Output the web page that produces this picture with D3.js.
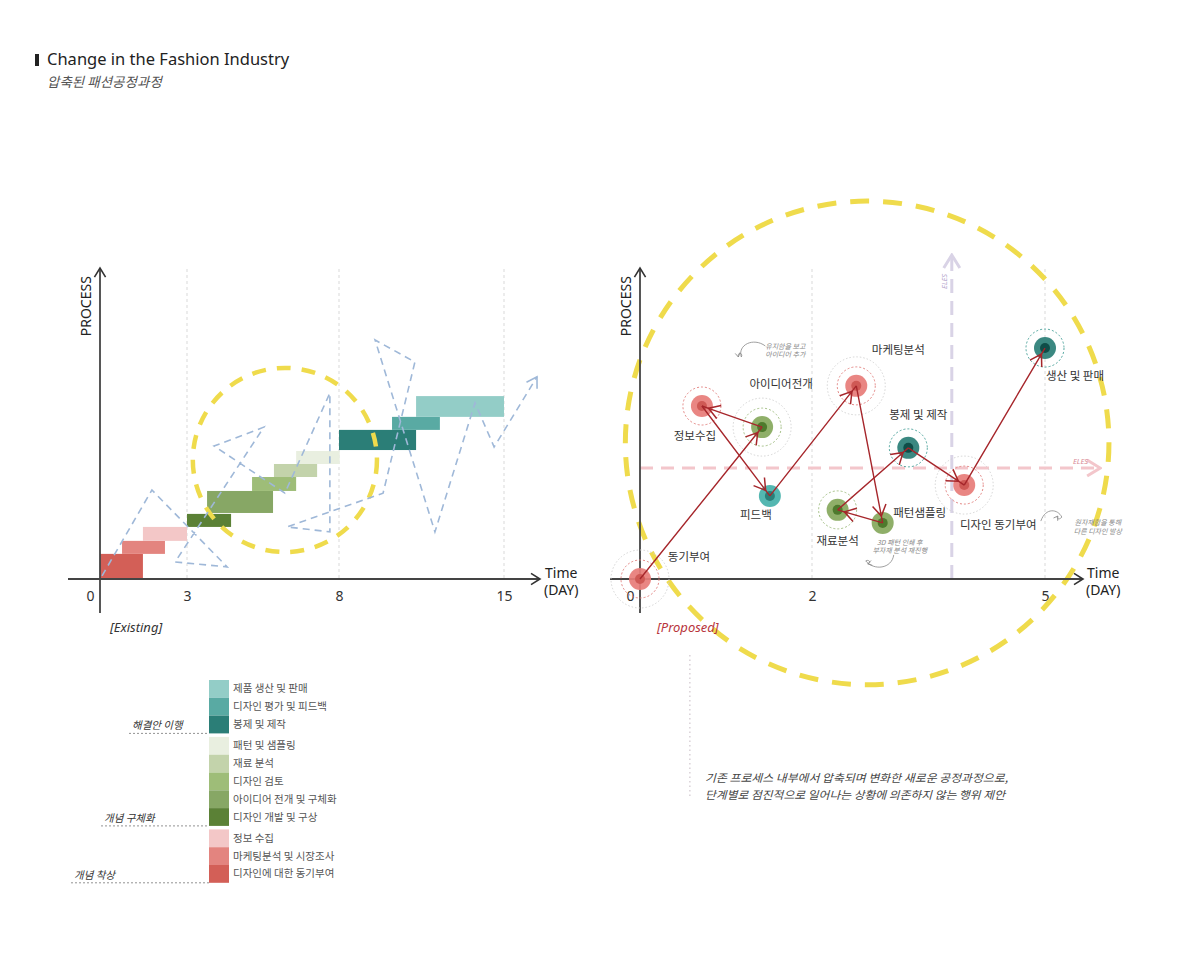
<!DOCTYPE html>
<html><head><meta charset="utf-8">
<script src="https://cdn.jsdelivr.net/npm/d3@7"></script>
<style>
body{margin:0;background:#fff;}
svg{display:block;font-family:"Noto Sans","Noto Sans CJK KR",sans-serif;}
</style></head><body>
<svg id="c" width="1200" height="960"></svg>
<script>
// ---------------- DATA ----------------
const titleText = "Change in the Fashion Industry";
const subtitleText = "압축된 패션공정과정";

const dayTicksExisting = [0, 3, 8, 15];
const dayTicksProposed = [0, 2, 5];

// Existing process (Gantt-like steps)
const existingSteps = ["디자인에 대한 동기부여","마케팅분석 및 시장조사","정보 수집","디자인 개발 및 구상","아이디어 전개 및 구체화","디자인 검토","재료 분석","패턴 및 샘플링","봉제 및 제작","디자인 평가 및 피드백","제품 생산 및 판매"];
const existingStart = [0, 0.76, 1.48, 3, 3.66, 5.14, 5.86, 6.59, 8, 10.25, 11.27];
const existingEnd   = [1.48, 2.24, 3, 4.45, 5.83, 6.59, 7.28, 8.03, 11.27, 12.28, 15];
const existingLow   = [0, 0.81, 1.23, 1.68, 2.13, 2.84, 3.29, 3.71, 4.16, 4.81, 5.23];
const existingHigh  = [0.81, 1.23, 1.68, 2.10, 2.84, 3.29, 3.71, 4.13, 4.81, 5.23, 5.90];
const existingGroup = [0,0,0,1,1,1,1,1,2,2,2];
const groupNames = ["개념 착상","개념 구체화","해결안 이행"];

// Wandering path of the existing process (dashed blue)
const wanderDay  = [0.07, 1.79, 4.32, 2.59, 5.53, 3.89, 6.22, 7.70, 7.70, 6.29, 9.87, 11.22, 9.53, 12.07, 13.77, 14.58, 16.4];
const wanderProc = [0.10, 2.87, 0.39, 0.55, 4.90, 4.29, 2.77, 6.00, 1.52, 1.68, 2.77, 7.00, 7.71, 1.52, 5.68, 4.26, 6.52];

// Proposed process nodes (in path order)
const nodeNames = ["동기부여","아이디어전개","정보수집","피드백","마케팅분석","패턴샘플링","재료분석","봉제 및 제작","디자인 동기부여","생산 및 판매"];
const nodeDay   = [0, 1.42, 0.72, 1.51, 2.57, 2.91, 2.33, 3.24, 3.96, 5];
const nodeProc  = [0, 4.90, 5.58, 2.68, 6.23, 1.81, 2.23, 4.23, 3.03, 7.45];
const nodeKind  = ["red","green","red","teal","red","green","green","dark","red","dark"];
const nodeRings = [2, 2, 1, 0, 2, 0, 1, 1, 2, 1];

const notesText = [["유지함을 보고","아이디어 추가"],["3D 패턴 인쇄 후","부자재 분석 재진행"],["원자재합을 통해","다른 디자인 발상"]];
const notesDay  = [1.69, 3.13, 5.68];
const notesProc = [7.42, 1.10, 1.74];

const elesLevel = 3.58;   // horizontal ELES line (process)
const elesDay = 3.80;     // vertical ELES line (day)

const captionLines = ["기존 프로세스 내부에서 압축되며 변화한 새로운 공정과정으로,","단계별로 점진적으로 일어나는 상황에 의존하지 않는 행위 제안"];

// ---------------- STYLES ----------------
const stepColors = ["#d35f57","#e3847f","#f3c7c7","#5b8136","#87a765","#9ebd78","#c3d3ab","#e9efe0","#2b7e77","#59aaa3","#93cdc7"];
const kindStyle = {
  red:   {fill:"#e77c78", core:"#cf5955", ring:"#e07a78"},
  green: {fill:"#86a85c", core:"#4e7a2d", ring:"#9cba7c"},
  teal:  {fill:"#45b1aa", core:"#2a7f79", ring:"#62b7b0"},
  dark:  {fill:"#2a7e76", core:"#0f4d48", ring:"#3f9c94"}
};
const labelOffset = [[49,-22],[19,-43],[-7,30],[-14,19],[42,-36],[37,-10],[0,31],[10,-33],[34,40],[30,28]];
const groupLabelX = [74,104,132];
const yellow = "#efdb4c";

// ---------------- SCALES ----------------
const svg = d3.select("#c");
const yP = d3.scaleLinear().domain([0,10]).range([579,269]);
const xL = d3.scaleLinear().domain(dayTicksExisting).range([100,187,339,504]);
const xR = d3.scaleLinear().domain(dayTicksProposed).range([640,812,1045]);

// markers
const defs = svg.append("defs");
function chev(id, color, w, size){
  defs.append("marker").attr("id",id).attr("viewBox",`${-size-2} ${-size} ${size+4} ${size*2}`)
    .attr("markerUnits","userSpaceOnUse").attr("markerWidth",size+4).attr("markerHeight",size*2)
    .attr("refX",0).attr("refY",0).attr("orient","auto")
    .append("path").attr("d",`M${-size},${-size*0.62} L0,0 L${-size},${size*0.62}`)
    .attr("fill","none").attr("stroke",color).attr("stroke-width",w).attr("stroke-linejoin","miter");
}
chev("axisArrow","#333",1.6,9);
chev("blueArrow","#9fb8d8",1.6,10);
chev("redArrow","#a6262b",1.5,11);
chev("pinkArrow","#f3c6cb",3,13);
chev("lavArrow","#d9d3e6",3,13);
chev("grayArrow","#888",0.8,4);

// ---------------- TITLE ----------------
svg.append("rect").attr("x",35).attr("y",54).attr("width",4).attr("height",12).attr("fill","#222");
svg.append("text").attr("x",47).attr("y",65).attr("font-size",16.5).attr("fill","#222").text(titleText);
svg.append("text").attr("x",47).attr("y",87).attr("font-size",13.5).attr("font-style","italic").attr("fill","#555")
  .attr("font-family","Noto Sans CJK KR").text(subtitleText);

// ---------------- COMMON AXIS DRAWING ----------------
function drawAxes(x, ticks, gridTicks){
  const g = svg.append("g");
  g.selectAll("line.grid").data(gridTicks).join("line")
    .attr("x1",d=>x(d)).attr("x2",d=>x(d)).attr("y1",yP(10)).attr("y2",yP(0))
    .attr("stroke","#cfcfcf").attr("stroke-width",0.8).attr("stroke-dasharray","3,3");
  const ax = g.append("g").attr("transform",`translate(0,${yP(0)})`)
    .call(d3.axisBottom(x).tickValues(ticks).tickSize(0).tickPadding(12).tickFormat(d3.format("d")));
  ax.select(".domain").remove();
  ax.selectAll("text").attr("font-size",14).attr("fill","#333").attr("font-family","Noto Sans, sans-serif")
    .attr("dx",d=>d===0?-10:0);
  return g;
}
function axisLines(x, x0, x1, lx){
  svg.append("line").attr("x1",x(0)).attr("x2",x(0)).attr("y1",yP(-1.1)).attr("y2",yP(10.03))
    .attr("stroke","#444").attr("stroke-width",1.8).attr("marker-end","url(#axisArrow)");
  svg.append("line").attr("x1",x0).attr("x2",x1).attr("y1",yP(0)).attr("y2",yP(0))
    .attr("stroke","#444").attr("stroke-width",1.8).attr("marker-end","url(#axisArrow)");
  svg.append("text").attr("transform",`translate(${x(0)-9},${yP(8.8)}) rotate(-90)`).attr("text-anchor","middle")
    .attr("font-size",14).attr("fill","#222").text("PROCESS");
  const t = svg.append("text").attr("x",lx).attr("y",yP(0)-1).attr("font-size",14).attr("fill","#222");
  t.append("tspan").attr("x",lx).text("Time");
  t.append("tspan").attr("x",lx-1).attr("dy",17).text("(DAY)");
}

// ---------------- LEFT: EXISTING ----------------
drawAxes(xL, dayTicksExisting, [3,8,15]);

svg.append("g").selectAll("rect").data(existingSteps).join("rect")
  .attr("x",(d,i)=>xL(existingStart[i])).attr("width",(d,i)=>xL(existingEnd[i])-xL(existingStart[i]))
  .attr("y",(d,i)=>yP(existingHigh[i])).attr("height",(d,i)=>yP(existingLow[i])-yP(existingHigh[i]))
  .attr("fill",(d,i)=>stepColors[i]);

svg.append("circle").attr("cx",xL(6.22)).attr("cy",yP(3.84)).attr("r",yP(0)-yP(2.97))
  .attr("fill","none").attr("stroke",yellow).attr("stroke-width",4.5).attr("stroke-dasharray","14,11");

svg.append("path").datum(wanderDay.map((d,i)=>[d,wanderProc[i]]))
  .attr("d",d3.line().x(d=>xL(d[0])).y(d=>yP(d[1])))
  .attr("fill","none").attr("stroke","#9fb8d8").attr("stroke-width",1.6).attr("stroke-dasharray","7,5")
  .attr("marker-end","url(#blueArrow)");

axisLines(xL, xL(0)-32, xL(15)+36, 545);

svg.append("text").attr("x",110).attr("y",632).attr("font-size",13).attr("font-style","italic").attr("fill","#333").text("[Existing]");

// legend
const legendOrder = d3.range(existingSteps.length).reverse();
const itemH = 17.8, gap = 3.5;
let yy = 680; const legendY = [];
legendOrder.forEach((si,k)=>{
  if (k>0 && existingGroup[si]!==existingGroup[legendOrder[k-1]]) yy += gap;
  legendY[si] = yy; yy += itemH;
});
const lg = svg.append("g");
lg.selectAll("rect").data(legendOrder).join("rect")
  .attr("x",209).attr("y",si=>legendY[si]).attr("width",20).attr("height",itemH)
  .attr("fill",si=>stepColors[si]);
lg.selectAll("text").data(legendOrder).join("text")
  .attr("x",233).attr("y",si=>legendY[si]+itemH/2+3.5).attr("font-size",10.5).attr("fill","#555")
  .attr("font-family","Noto Sans CJK KR").text(si=>existingSteps[si]);
groupNames.forEach((gname,gi)=>{
  const members = d3.range(existingSteps.length).filter(i=>existingGroup[i]===gi);
  const bottom = d3.max(members, i=>legendY[i]+itemH);
  svg.append("line").attr("x1",groupLabelX[gi]-3).attr("x2",209).attr("y1",bottom).attr("y2",bottom)
    .attr("stroke","#777").attr("stroke-width",0.8).attr("stroke-dasharray","2,2");
  svg.append("text").attr("x",groupLabelX[gi]).attr("y",bottom-4).attr("font-size",10.5).attr("font-style","italic")
    .attr("fill","#333").attr("font-family","Noto Sans CJK KR").text(gname);
});

// ---------------- RIGHT: PROPOSED ----------------
drawAxes(xR, dayTicksProposed, [2,5]);

svg.append("line").attr("x1",xR(0)).attr("x2",xR(5.71)).attr("y1",yP(elesLevel)).attr("y2",yP(elesLevel))
  .attr("stroke","#f3c6cb").attr("stroke-width",3).attr("stroke-dasharray","13,8").attr("marker-end","url(#pinkArrow)");
svg.append("text").attr("x",xR(5.36)).attr("y",yP(elesLevel)-4).attr("font-size",7.5).attr("font-style","italic")
  .attr("fill","#d98a95").text("ELES");
svg.append("line").attr("x1",xR(elesDay)).attr("x2",xR(elesDay)).attr("y1",yP(0)).attr("y2",yP(10.45))
  .attr("stroke","#d9d3e6").attr("stroke-width",3).attr("stroke-dasharray","14,8").attr("marker-end","url(#lavArrow)");
svg.append("text").attr("transform",`translate(${xR(elesDay)-5},${yP(9.6)}) rotate(-90)`).attr("text-anchor","middle")
  .attr("font-size",7.5).attr("font-style","italic").attr("fill","#b4a6cc").text("ELES");

svg.append("circle").attr("cx",xR(2.71)).attr("cy",yP(4.39)).attr("r",yP(0)-yP(7.8))
  .attr("fill","none").attr("stroke",yellow).attr("stroke-width",5).attr("stroke-dasharray","19,14");

svg.append("line").attr("x1",xR(0.58)).attr("x2",xR(0.58)).attr("y1",yP(-2.45)).attr("y2",yP(-7.1))
  .attr("stroke","#cfc6cc").attr("stroke-width",1.2).attr("stroke-dasharray","1.5,3");

axisLines(xR, xR(0)-30, xR(5)+38, 1087);

svg.append("text").attr("x",657).attr("y",632).attr("font-size",13).attr("font-style","italic").attr("fill","#b8343c").text("[Proposed]");

const ng = svg.append("g");
nodeNames.forEach((n,i)=>{
  const cx = xR(nodeDay[i]), cy = yP(nodeProc[i]), st = kindStyle[nodeKind[i]];
  if (nodeRings[i]>=2) ng.append("circle").attr("cx",cx).attr("cy",cy).attr("r",29)
    .attr("fill","none").attr("stroke","#cfcfcf").attr("stroke-width",0.9).attr("stroke-dasharray","1.5,2");
  if (nodeRings[i]>=1) ng.append("circle").attr("cx",cx).attr("cy",cy).attr("r",19)
    .attr("fill","none").attr("stroke",st.ring).attr("stroke-width",0.9).attr("stroke-dasharray","2,2");
  ng.append("circle").attr("cx",cx).attr("cy",cy).attr("r",11).attr("fill",st.fill).attr("opacity",0.92);
  ng.append("circle").attr("cx",cx).attr("cy",cy).attr("r",5).attr("fill",st.core);
  ng.append("text").attr("x",cx+labelOffset[i][0]).attr("y",cy+labelOffset[i][1]+4)
    .attr("text-anchor","middle").attr("font-size",11.5).attr("fill","#333")
    .attr("font-family","Noto Sans CJK KR").text(n);
});

const ag = svg.append("g");
for (let i=0;i<nodeNames.length-1;i++){
  const x1 = xR(nodeDay[i]), y1 = yP(nodeProc[i]), x2 = xR(nodeDay[i+1]), y2 = yP(nodeProc[i+1]);
  const L = Math.hypot(x2-x1,y2-y1), k = (L-7)/L;
  const mx = x1+(x2-x1)*k, my = y1+(y2-y1)*k;
  ag.append("path").attr("d",`M${x1},${y1}L${mx},${my}L${x2},${y2}`)
    .attr("fill","none").attr("stroke","#a6262b").attr("stroke-width",1.4).attr("marker-mid","url(#redArrow)");
}

notesText.forEach((lines,i)=>{
  const cx = xR(notesDay[i]), cy = yP(notesProc[i]);
  lines.forEach((t,j)=>{
    svg.append("text").attr("x",cx).attr("y",cy+j*8.5).attr("text-anchor","middle").attr("font-size",7)
      .attr("font-style","italic").attr("fill","#888").attr("font-family","Noto Sans CJK KR").text(t);
  });
});
const curlPaths = [
  "M-20,-3 C-32,-12 -48,-4 -44,8 M-44,8 c2,-4 -4,-6 -3,0",
  "M-6,10 C-8,24 -26,26 -34,16 M-34,16 c3,-2 6,2 2,3",
  "M-57,-4 C-52,-18 -40,-16 -36,-8 c-2,3 -6,2 -4,-1"
];
curlPaths.forEach((p,i)=>{
  svg.append("path").attr("transform",`translate(${xR(notesDay[i])},${yP(notesProc[i])})`).attr("d",p)
    .attr("fill","none").attr("stroke","#888").attr("stroke-width",0.8).attr("marker-end","url(#grayArrow)");
});

captionLines.forEach((t,j)=>{
  svg.append("text").attr("x",705).attr("y",782+j*17).attr("font-size",11).attr("font-style","italic")
    .attr("fill","#444").attr("font-family","Noto Sans CJK KR")
    .attr("textLength",j===0?303:300).attr("lengthAdjust","spacingAndGlyphs").text(t);
});
</script>
</body></html>
